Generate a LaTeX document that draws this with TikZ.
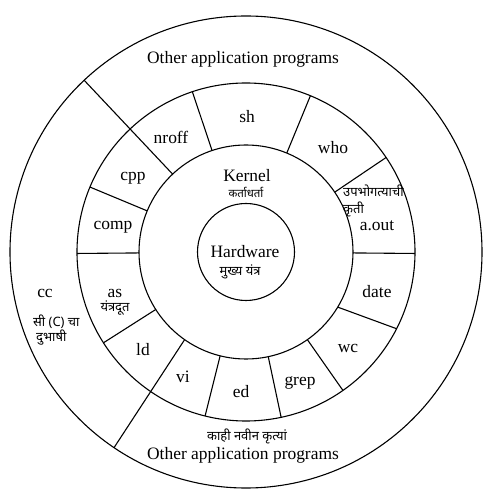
\documentclass[tikz,border=0pt]{standalone}
\usepackage{fontspec}
\setmainfont{Liberation Serif}
\newfontfamily\deva[Script=Devanagari]{Noto Sans}
\begin{document}
\begin{tikzpicture}[x=1bp,y=1bp,
  ring/.style={line width=1.1pt},
  sep/.style={line width=1.1pt},
  lab/.style={inner sep=0pt,font=\fontsize{17.5}{19}\selectfont},
  dlab/.style={inner sep=0pt,font=\deva\fontsize{13}{14}\selectfont}]
\useasboundingbox (-246,-251) rectangle (250,252);
% circles
\draw[ring] (0,0) circle[radius=236];
\draw[ring] (0,0) circle[radius=169];
\draw[ring] (0,0) circle[radius=107];
\draw[ring] (0,0) circle[radius=48.5];
% dividers in the application ring
\foreach \a in {108.5,67.6,34,-0.5,-55,-78,-104,-147.5,180.5,157.4}
  \draw[sep] (\a:107) -- (\a:169);
\draw[sep] (-31:107) -- (-27:169);
% dividers that reach the outer circle
\draw[sep] (133.3:107) -- (133.3:236);
\draw[sep] (-125:107) -- (-124:236);
% labels
\node[lab] (oapt) at (-3,193) {Other application programs};
\node[lab] (sh) at (1,135) {sh};
\node[lab] (nroff) at (-75,115) {nroff};
\node[lab] (who) at (87,104) {who};
\node[lab] (cpp) at (-113,74) {cpp};
\node[lab] (kernel) at (1,76) {Kernel};
\node[dlab,font=\deva\fontsize{11.5}{13}\selectfont] (kernelm) at (0,60) {कर्ताधर्ता};
\node[lab] (comp) at (-133,25) {comp};
\node[dlab,anchor=west] (aoutm1) at (97,61) {उपभोगत्याची};
\node[dlab,anchor=west] (aoutm2) at (97,43) {कृती};
\node[lab] (aout) at (131,26) {a.out};
\node[lab] (hw) at (-1,0) {Hardware};
\node[dlab] (hwm) at (-6,-20) {मुख्य यंत्र};
\node[lab] (cc) at (-201,-41) {cc};
\node[dlab,anchor=west] (ccm1) at (-213,-70) {सी (C) चा};
\node[dlab,anchor=west] (ccm2) at (-210,-86) {दुभाषी};
\node[lab] (as) at (-131,-41) {as};
\node[dlab] (asm) at (-131,-56) {यंत्रदूत};
\node[lab] (date) at (131,-40) {date};
\node[lab] (ld) at (-103,-98) {ld};
\node[lab] (wc) at (102,-96) {wc};
\node[lab] (vi) at (-63,-125) {vi};
\node[lab] (grep) at (54,-131) {grep};
\node[lab] (ed) at (-5,-140) {ed};
\node[dlab] (oapbm) at (1,-184) {काही नवीन कृत्यां};
\node[lab] (oapb) at (-3,-203) {Other application programs};
\end{tikzpicture}
\end{document}
